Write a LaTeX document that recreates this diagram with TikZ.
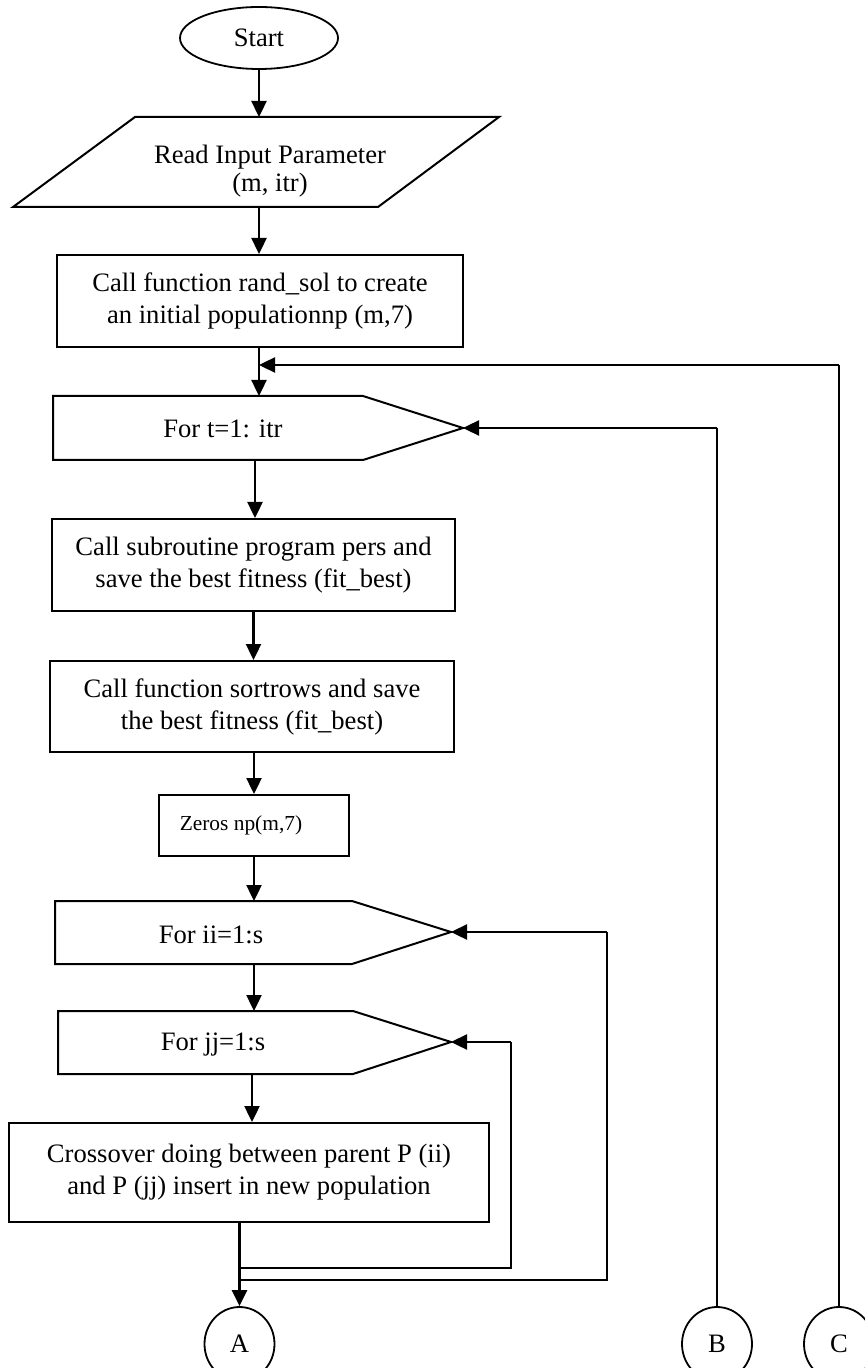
\documentclass[tikz,border=0pt]{standalone}
\usepackage{fontspec}
\setmainfont{Liberation Serif}
\usetikzlibrary{arrows.meta,shapes.geometric}
\begin{document}
\begin{tikzpicture}[x=0.5pt,y=-0.5pt,
  every node/.style={font=\fontsize{13.3}{16}\selectfont},
  box/.style={draw,line width=1pt,rectangle,align=center,inner sep=0pt},
  shp/.style={draw,line width=1pt,line join=miter},
  arr/.style={line width=1.2pt,-{Triangle[length=8pt,width=7.5pt]}},
  thinline/.style={line width=0.8pt},
  loopline/.style={line width=1pt},
  conn/.style={draw,ellipse,line width=0.9pt,minimum width=35pt,minimum height=37pt,inner sep=0pt}]
\useasboundingbox (0,0) rectangle (864,1368);

% Start
\node[draw,ellipse,line width=0.9pt,minimum width=79pt,minimum height=31pt,inner sep=0pt] (start) at (259,38) {Start};

% Read input (parallelogram)
\draw[shp] (135,117) -- (499,117) -- (378,207) -- (13,207) -- cycle;
\node[align=center,font=\fontsize{13.3}{14}\selectfont] (read) at (270,171) {Read Input Parameter\\(m, itr)};
\coordinate (readT) at (259,117);
\coordinate (readB) at (259,207);
\draw[arr] (start.south) -- (readT);

% initial population
\node[box,minimum width=203pt,minimum height=46pt] (init) at (260,301) {Call function rand\_sol to create\\an initial populationnp (m,7)};
\draw[arr] (readB) -- (readB |- init.north);

% For t loop
\draw[shp] (53,396) -- (363,396) -- (463,428) -- (363,460) -- (53,460) -- cycle;
\node (fort) at (223,429) {For t=1: itr};
\coordinate (fortT) at (259,396);
\coordinate (fortB) at (255,460);
\coordinate (fortP) at (463,428);
\coordinate (cJoin) at (259,365);
\draw[arr] (fortT |- init.south) -- (fortT);

% Call pers
\node[box,minimum width=201.5pt,minimum height=46pt] (pers) at (253.5,565) {Call subroutine program pers and\\save the best fitness (fit\_best)};
\draw[arr] (fortB) -- (fortB |- pers.north);

% sortrows
\node[box,minimum width=202pt,minimum height=45.5pt] (sort) at (252,706.5) {Call function sortrows and save\\the best fitness (fit\_best)};
\draw[arr] (pers.south) -- (pers.south |- sort.north);

% Zeros
\node[box,minimum width=95pt,minimum height=30.5pt,font=\fontsize{10.7}{12}\selectfont] (zeros) at (254,825.5) {\raisebox{2.5pt}{\kern-13pt Zeros np(m,7)}};
\draw[arr] (sort.south -| zeros.north) -- (zeros.north);

% For ii
\draw[shp] (55,901) -- (352,901) -- (451,932) -- (352,964) -- (55,964) -- cycle;
\node (forii) at (211,935) {For ii=1:s};
\coordinate (iiT) at (254,901);
\coordinate (iiB) at (254,964);
\coordinate (iiP) at (451,932);
\draw[arr] (zeros.south) -- (iiT);

% For jj
\draw[shp] (58,1011) -- (353,1011) -- (451,1042) -- (353,1074) -- (58,1074) -- cycle;
\node (forjj) at (213,1045) {For jj=1:s};
\coordinate (jjT) at (254,1011);
\coordinate (jjB) at (252,1074);
\coordinate (jjP) at (451,1042);
\draw[arr] (iiB) -- (jjT);

% Crossover
\node[box,minimum width=240pt,minimum height=49.5pt] (cross) at (249,1172.5) {Crossover doing between parent P (ii)\\and P (jj) insert in new population};
\draw[arr] (jjB) -- (jjB |- cross.north);

% Connectors
\node[conn] (A) at (239.5,1344) {A};
\node[conn] (B) at (717,1344) {B};
\node[conn] (C) at (839,1344) {C};

\coordinate (outT) at (239.5,1222);
\draw[arr] (outT) -- (A.north);

% jj loop
\coordinate (jjJoin) at (239.5,1268);
\coordinate (jjR) at (511,1042);
\draw[loopline] (jjJoin) -| (jjR);
\draw[arr] (jjR) -- (jjP);

% ii loop
\coordinate (iiJoin) at (239.5,1280);
\coordinate (iiR) at (607,932);
\draw[loopline] (iiJoin) -| (iiR);
\draw[arr] (iiR) -- (iiP);

% B loop
\coordinate (bTop) at (717,428);
\draw[thinline] (B.north) -- (bTop);
\draw[arr] (bTop) -- (fortP);

% C loop
\coordinate (cTop) at (839,365);
\draw[thinline] (C.north) -- (cTop);
\draw[arr] (cTop) -- (cJoin);
\end{tikzpicture}
\end{document}
